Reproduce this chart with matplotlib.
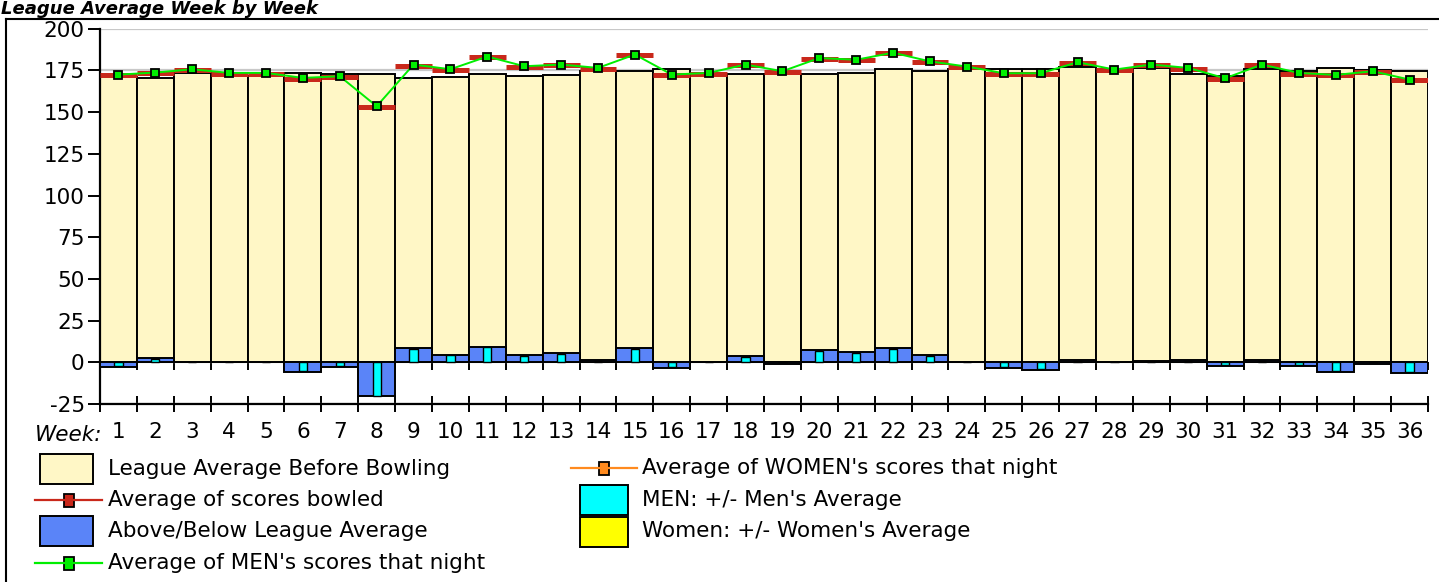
import matplotlib
matplotlib.use('Agg')
import matplotlib.pyplot as plt
from matplotlib.patches import Rectangle
from matplotlib.lines import Line2D
import numpy as np

plt.rcParams['font.family'] = ['DejaVu Sans']

# ---------------- data ----------------
weeks = list(range(1, 37))
league_avg_before = [171.0, 170.3, 173.3, 171.7, 171.7, 173.3, 172.7, 172.7, 170.3, 171.3,
                     172.7, 171.9, 172.1, 174.6, 174.6, 176.1, 172.1, 172.7, 173.1, 172.7,
                     173.7, 176.1, 174.6, 175.6, 176.1, 176.1, 177.1, 175.1, 176.7, 172.7,
                     171.5, 175.6, 174.6, 176.7, 175.1, 174.6]
avg_scores_bowled = [172.1, 173.3, 175.2, 173.1, 173.1, 170.1, 171.3, 153.1, 177.8, 175.2,
                     183.0, 177.3, 178.1, 175.9, 184.2, 172.1, 173.1, 178.1, 174.1, 182.0,
                     181.0, 185.2, 180.0, 177.0, 173.0, 173.0, 179.5, 175.2, 178.1, 176.1,
                     169.9, 178.1, 173.1, 172.1, 174.1, 169.1]
men_avg_night = [172.5, 173.7, 175.7, 173.5, 173.5, 170.5, 171.5, 153.5, 178.5, 175.7,
                 183.3, 177.5, 178.5, 176.5, 184.5, 172.5, 173.5, 178.5, 174.5, 182.4,
                 181.4, 185.6, 180.4, 177.3, 173.3, 173.3, 179.9, 175.5, 178.5, 176.5,
                 170.3, 178.5, 173.5, 172.3, 174.5, 169.5]
above_below = [-2.6, 2.4, 0, 0, 0, -5.8, -2.6, -20.2, 8.4, 4.6,
               9.4, 4.4, 5.4, 1.4, 8.4, -3.6, 0, 3.8, -0.8, 7.4,
               6.4, 8.8, 4.4, 0, -3.2, -4.6, 1.4, 0, 0.8, 1.4,
               -2.2, 1.4, -2.2, -5.6, -0.8, -6.2]
men_plus_minus = [-2.4, 2.0, 0, 0, 0, -5.2, -2.2, -20.0, 8.2, 4.2,
                  9.2, 3.8, 5.0, 0.9, 8.2, -2.8, 0, 3.0, 0, 6.8,
                  5.8, 8.2, 4.0, 0, -2.6, -3.8, 0.8, 0, 0.4, 0.6,
                  -1.6, 0.8, -1.6, -5.0, 0, -5.8]
y_ticks = [-25, 0, 25, 50, 75, 100, 125, 150, 175, 200]

title = "League Average Week by Week"
legend_left = ["League Average Before Bowling", "Average of scores bowled",
               "Above/Below League Average", "Average of MEN's scores that night"]
legend_right = ["Average of WOMEN's scores that night", "MEN: +/- Men's Average",
                "Women: +/- Women's Average"]

# ---------------- style ----------------
CREAM = '#FFF7C6'
BLUE = '#5A84F8'
CYAN = '#00FFFF'
YELLOW = '#FFFF00'
RED = '#C9281B'
GREEN = '#00EE00'
ORANGE = '#FF8A1E'
FS = 15.5

W, H = 1439, 582
fig = plt.figure(figsize=(W / 100, H / 100), dpi=100)

def fx(px):
    return px / W

def fy(py):
    return 1 - py / H

ax = fig.add_axes([fx(100), fy(404), fx(1428) - fx(100), fy(28.7) - fy(404)])

x = np.array(weeks)
ax.bar(x, league_avg_before, width=1.0, color=CREAM, edgecolor='black', linewidth=1.4, zorder=2)
ax.bar(x, above_below, width=1.0, color=BLUE, edgecolor='black', linewidth=1.4, zorder=3)
ax.bar(x, men_plus_minus, width=0.22, color=CYAN, edgecolor='black', linewidth=1.0, zorder=4)
ax.hlines(avg_scores_bowled, x - 0.5, x + 0.5, colors=RED, linewidth=3.6, zorder=5)
ax.plot(x, men_avg_night, color=GREEN, linewidth=1.4, marker='s', markersize=6.3,
        markerfacecolor='#00F000', markeredgecolor='black', markeredgewidth=1.3, zorder=6)

ax.set_xlim(0.5, 36.5)
ax.set_ylim(-25, 200)
ax.set_yticks(y_ticks)
ax.set_yticklabels([str(v) for v in y_ticks], fontsize=FS)
ax.yaxis.grid(True, color='#C8C8C8', linewidth=1.6)
ax.set_axisbelow(True)

ax.set_xticks(np.arange(0.5, 37, 1.0))
ax.set_xticklabels([])
ax.set_xticks(x, minor=True)
ax.set_xticklabels([str(w) for w in weeks], minor=True, fontsize=FS)
ax.tick_params(axis='x', which='major', direction='inout', length=12, width=1.4)
ax.tick_params(axis='x', which='minor', length=0, pad=13)
ax.tick_params(axis='y', direction='out', length=9, width=1.4, pad=2)

for s in ['top', 'right']:
    ax.spines[s].set_visible(False)
for s in ['left', 'bottom']:
    ax.spines[s].set_linewidth(1.6)
    ax.spines[s].set_color('black')

# small ticks at the zero line
sec = ax.secondary_xaxis(0, transform=ax.transData)
sec.set_xticks(np.arange(0.5, 37, 1.0))
sec.set_xticklabels([])
sec.tick_params(axis='x', direction='out', length=6, width=1.4)
sec.spines['bottom'].set_visible(False)
sec.spines['top'].set_visible(False)

fig.text(fx(35), fy(441), "Week:", fontsize=FS, style='italic', ha='left', va='baseline')

# title and frame
fig.text(fx(1), fy(0.5), title, fontsize=13, fontweight='bold', style='italic',
         ha='left', va='top')
fig.add_artist(Line2D([fx(6), fx(6)], [0, fy(19)], color='black', linewidth=1.5,
                      transform=fig.transFigure))
fig.add_artist(Line2D([fx(6), 1], [fy(19), fy(19)], color='black', linewidth=1.5,
                      transform=fig.transFigure))

# legend (drawn manually)
def patch(x0, y0, w, h, color):
    fig.add_artist(Rectangle((fx(x0), fy(y0 + h)), w / W, h / H, facecolor=color,
                             edgecolor='black', linewidth=1.4, transform=fig.transFigure))

def line_handle(x0, x1, yc, color, mcolor):
    fig.add_artist(Line2D([fx(x0), fx(x1)], [fy(yc), fy(yc)], color=color, linewidth=1.6,
                          transform=fig.transFigure))
    xm = (x0 + x1) / 2
    fig.add_artist(Rectangle((fx(xm - 5), fy(yc + 6.5)), 10 / W, 13 / H, facecolor=mcolor,
                             edgecolor='black', linewidth=1.3, transform=fig.transFigure))

rows_left = [469, 500, 531, 563]
patch(40, 454, 53, 30, CREAM)
line_handle(35, 102, rows_left[1], RED, RED)
patch(40, 516, 53, 30, BLUE)
line_handle(35, 102, rows_left[3], GREEN, '#00F000')
for lab, yc in zip(legend_left, rows_left):
    fig.text(fx(108), fy(yc), lab, fontsize=FS, ha='left', va='center')

rows_right = [468, 500, 531]
line_handle(571, 637, rows_right[0], ORANGE, ORANGE)
patch(580, 485, 48, 30, CYAN)
patch(580, 517, 48, 30, YELLOW)
for lab, yc in zip(legend_right, rows_right):
    fig.text(fx(642), fy(yc), lab, fontsize=FS, ha='left', va='center')

fig.savefig('out.png', dpi=100)
